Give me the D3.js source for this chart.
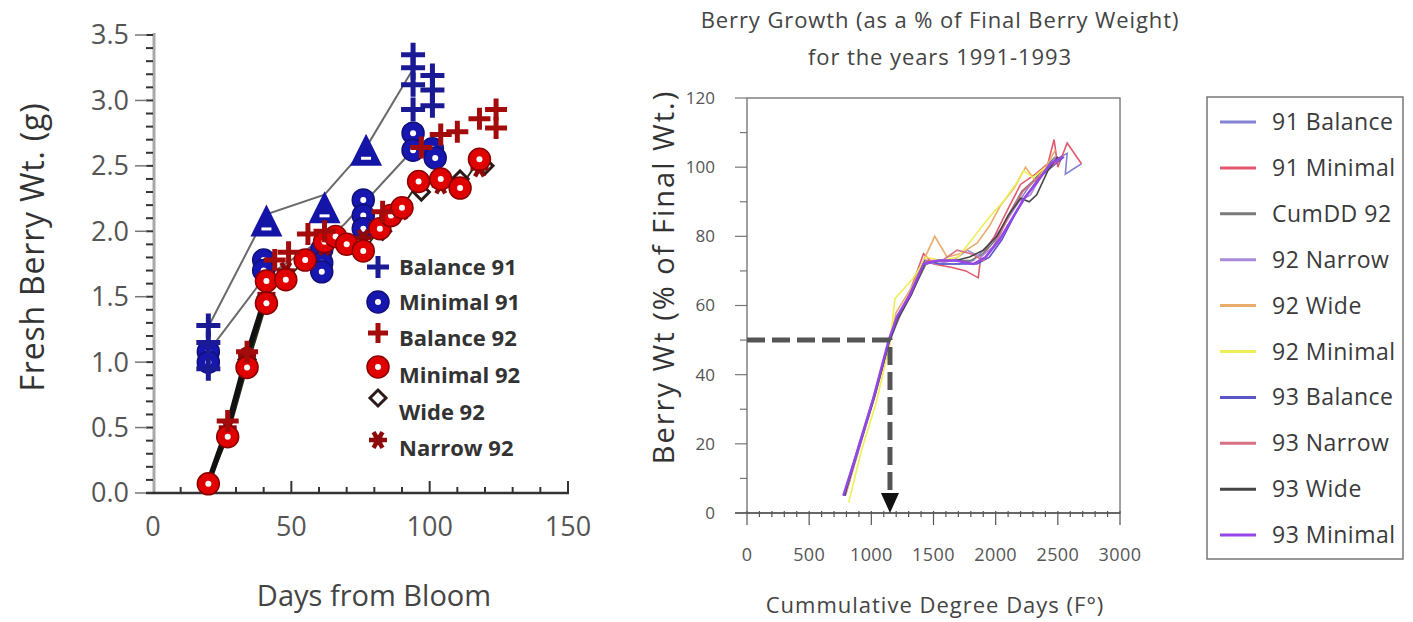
<!DOCTYPE html>
<html>
<head>
<meta charset="utf-8">
<script src="https://cdn.jsdelivr.net/npm/d3@7"></script>
<style>
  body { margin: 0; background: #fff; }
  text { font-family: 'Open Sans', sans-serif; }
</style>
</head>
<body>
<script>
// ---------- left chart data: [days from bloom, fresh berry wt (g)] ----------
var balance91 = [[20,1.28],[20,1.15],[20,0.95],[94,3.35],[94,3.25],[94,3.12],[94,2.93],[101,3.19],[101,3.08],[101,2.96]];
var minimal91 = [[20,1.08],[20,1.0],[40,1.78],[40,1.7],[61,1.86],[61,1.76],[61,1.69],[76,2.24],[76,2.12],[76,2.02],[94,2.75],[94,2.62],[101,2.63],[102,2.56]];
var triangle91 = [[41,2.06],[62,2.16],[77,2.6]];
var balance92 = [[27,0.55],[34,1.08],[44,1.78],[49,1.84],[56,1.98],[62,2.0],[83,2.15],[97,2.64],[104,2.74],[110,2.76],[118,2.86],[124,2.93],[124,2.79]];
var minimal92 = [[20,0.07],[27,0.43],[34,0.96],[41,1.45],[41,1.62],[48,1.63],[55,1.78],[62,1.92],[66,1.96],[70,1.9],[76,1.85],[82,2.02],[86,2.12],[90,2.18],[96,2.38],[104,2.4],[111,2.33],[118,2.55]];
var wide92 = [[20,0.08],[27,0.46],[34,1.02],[41,1.5],[55,1.78],[69,1.9],[83,2.0],[97,2.3],[111,2.4],[120,2.5]];
var narrow92 = [[20,0.08],[27,0.5],[34,1.05],[41,1.52],[48,1.7],[62,1.88],[76,1.95],[90,2.15],[104,2.35],[118,2.48]];
// gray connecting lines for 1991
var line91a = [[20,1.27],[41,2.13],[62,2.28],[77,2.64],[94,3.24]];
var line91b = [[20,1.08],[40,1.64],[69,2.05],[93,2.6],[101,2.62]];

var leftXTicks = [0, 50, 100, 150];
var leftYTicks = [0, 0.5, 1.0, 1.5, 2.0, 2.5, 3.0, 3.5];

// ---------- right chart data: [cumulative degree days, % of final wt] ----------
var s91Balance = [[790,6],[905,20],[1025,34],[1145,50],[1220,57],[1320,63],[1440,73],[1560,72],[1700,72],[1820,73],[1930,77],[2040,82],[2150,88],[2260,94],[2380,99],[2470,102],[2575,104],[2560,98],[2690,101]];
var s91Minimal = [[780,5],[900,19],[1020,33],[1140,49],[1200,56],[1300,63],[1420,75],[1500,72],[1650,71],[1760,70],[1860,68],[1880,74],[1990,80],[2100,88],[2200,95],[2320,98],[2420,101],[2470,108],[2500,100],[2575,107],[2690,101]];
var sCumDD92 = [[790,5],[905,19],[1030,34],[1150,50],[1230,57],[1330,64],[1440,72],[1560,73],[1680,73],[1800,73],[1900,75],[2000,79],[2100,86],[2210,93],[2300,96],[2400,100],[2480,103]];
var s92Narrow = [[785,6],[900,20],[1020,34],[1145,50],[1215,57],[1320,64],[1430,73],[1520,72],[1660,73],[1770,76],[1880,74],[1980,77],[2080,84],[2180,90],[2280,92],[2390,99],[2490,103]];
var s92Wide = [[800,6],[910,20],[1030,34],[1150,50],[1200,58],[1320,65],[1420,73],[1510,80],[1610,74],[1720,75],[1850,78],[1950,83],[2040,89],[2150,94],[2240,100],[2320,96],[2420,101],[2480,105]];
var s92Minimal = [[818,3],[920,18],[1040,32],[1150,49],[1190,62],[1340,68],[1440,74],[1560,73],[1700,74],[1850,81],[1960,86],[2060,90],[2160,95],[2225,99],[2300,97],[2400,100]];
var s93Balance = [[780,5],[895,19],[1020,33],[1140,49],[1210,56],[1310,63],[1430,73],[1550,72],[1700,72],[1850,72],[1950,74],[2050,79],[2150,86],[2250,92],[2350,97],[2450,100],[2550,103]];
var s93Narrow = [[790,6],[905,20],[1025,34],[1145,50],[1215,57],[1320,64],[1440,73],[1570,73],[1690,76],[1800,75],[1900,73],[2000,78],[2120,87],[2220,93],[2340,97],[2440,100],[2530,103]];
var s93Wide = [[785,5],[900,19],[1020,33],[1140,49],[1210,56],[1320,63],[1430,72],[1550,73],[1680,73],[1790,74],[1900,76],[2010,80],[2100,86],[2200,91],[2270,90],[2330,92],[2420,99],[2500,103]];
var s93Minimal = [[775,5],[890,18],[1015,33],[1140,50],[1210,57],[1310,63],[1420,72],[1540,73],[1680,73],[1820,72],[1920,74],[2030,79],[2130,85],[2230,91],[2340,96],[2440,101],[2540,103]];

var rightNames = ["91 Balance","91 Minimal","CumDD 92","92 Narrow","92 Wide","92 Minimal","93 Balance","93 Narrow","93 Wide","93 Minimal"];
var rightSeries = [s91Balance, s91Minimal, sCumDD92, s92Narrow, s92Wide, s92Minimal, s93Balance, s93Narrow, s93Wide, s93Minimal];
var rightColors = ["#8583d2","#e2596e","#7a7a7a","#a98bd9","#e8ad6a","#eeee55","#5a55c9","#d86f84","#454545","#9447e6"];
var rightXTicks = [0, 500, 1000, 1500, 2000, 2500, 3000];
var rightYTicks = [0, 20, 40, 60, 80, 100, 120];
var guideDD = 1150, guidePct = 50; // dashed read-off at 50%

var svg = d3.select("body").append("svg")
    .attr("width", 1413)
    .attr("height", 622);

/////////////////////////////////////////////////////////////////////////
// LEFT CHART
/////////////////////////////////////////////////////////////////////////

var xL = d3.scaleLinear().domain([0, 150]).range([153, 568]);
var yL = d3.scaleLinear().domain([0, 3.5]).range([493, 35]);
var left = svg.append("g");

// y axis: light gray spine, short dark minor ticks, longer gray major ticks
left.append("line")
    .attr("x1", 154).attr("x2", 154)
    .attr("y1", yL(3.5) - 2).attr("y2", yL(0))
    .style("stroke", "#a8a8a8").style("stroke-width", 3);

left.selectAll(".yminor")
    .data(d3.range(0, 36).map(function(i) { return i / 10; }))
    .enter().append("line")
    .attr("x1", 146).attr("x2", 153)
    .attr("y1", function(d) { return yL(d); })
    .attr("y2", function(d) { return yL(d); })
    .style("stroke", "#333").style("stroke-width", 2);

left.selectAll(".ymajor")
    .data(leftYTicks)
    .enter().append("line")
    .attr("x1", 135).attr("x2", 147)
    .attr("y1", function(d) { return yL(d); })
    .attr("y2", function(d) { return yL(d); })
    .style("stroke", "#777").style("stroke-width", 1.5);

left.selectAll(".ylab")
    .data(leftYTicks)
    .enter().append("text")
    .attr("x", 129)
    .attr("y", function(d) { return yL(d); })
    .attr("dy", "0.35em")
    .attr("text-anchor", "end")
    .style("font-size", "27px")
    .style("fill", "#555")
    .text(function(d) { return d3.format(".1f")(d); });

// x axis: dark baseline with upward ticks
left.append("line")
    .attr("x1", 146).attr("x2", xL(150) + 1)
    .attr("y1", 493).attr("y2", 493)
    .style("stroke", "#333").style("stroke-width", 2.5);

left.selectAll(".xtick")
    .data(d3.range(10, 151, 10))
    .enter().append("line")
    .attr("x1", function(d) { return xL(d); })
    .attr("x2", function(d) { return xL(d); })
    .attr("y1", 493)
    .attr("y2", function(d) { return d % 50 == 0 ? 481 : 487; })
    .style("stroke", "#333").style("stroke-width", 2);

left.selectAll(".xlab")
    .data(leftXTicks)
    .enter().append("text")
    .attr("x", function(d) { return xL(d); })
    .attr("y", 527)
    .attr("dy", "0.35em")
    .attr("text-anchor", "middle")
    .style("font-size", "27px")
    .style("fill", "#555")
    .text(function(d) { return d; });

left.append("text")
    .attr("transform", "translate(33,247) rotate(-90)")
    .attr("text-anchor", "middle")
    .attr("dy", "0.35em")
    .style("font-size", "32px")
    .style("letter-spacing", "0.8px")
    .style("fill", "#333")
    .text("Fresh Berry Wt. (g)");

left.append("text")
    .attr("x", 374).attr("y", 596)
    .attr("dy", "0.35em")
    .attr("text-anchor", "middle")
    .style("font-size", "29px")
    .style("fill", "#444")
    .text("Days from Bloom");

// connecting lines
var lineL = d3.line()
    .x(function(d) { return xL(d[0]); })
    .y(function(d) { return yL(d[1]); });

[line91a, line91b].forEach(function(s) {
    left.append("path").attr("d", lineL(s))
        .style("fill", "none").style("stroke", "#6a6a6a").style("stroke-width", 2);
});
left.append("path").attr("d", lineL(minimal92))
    .style("fill", "none").style("stroke", "#2b2b1a").style("stroke-width", 2);
left.append("path").attr("d", lineL(narrow92.slice(0, 4)))
    .style("fill", "none").style("stroke", "#111").style("stroke-width", 5.5);

// marker drawers
function plus(g, color, s) {
    g.append("path").attr("d", "M" + (-s) + ",0H" + s + "M0," + (-s) + "V" + s)
        .style("stroke", color).style("stroke-width", 5).style("fill", "none");
}
function ring(g, fill, stroke) {
    g.append("circle").attr("r", 11).style("fill", fill).style("stroke", stroke).style("stroke-width", 1.5);
    g.append("circle").attr("r", 3).style("fill", "#fff");
}
function diamond(g) {
    g.append("path").attr("d", "M0,-8L8,0L0,8L-8,0Z")
        .style("fill", "#fff").style("stroke", "#2a1a1a").style("stroke-width", 3);
}
function star(g) {
    [0, 60, 120].forEach(function(a) {
        g.append("line").attr("x1", -9).attr("x2", 9)
            .attr("transform", "rotate(" + a + ")")
            .style("stroke", "#8e0a0a").style("stroke-width", 4.5);
    });
    g.append("circle").attr("r", 5).style("fill", "#8e0a0a");
}
function triangle(g) {
    g.append("path").attr("d", "M0,-19L16,13H-16Z").style("fill", "#1414a6");
    g.append("rect").attr("x", -5).attr("y", 4).attr("width", 10).attr("height", 3).style("fill", "#fff");
}

function drawPoints(data, drawer) {
    left.selectAll(null)
        .data(data)
        .enter().append("g")
        .attr("transform", function(d) { return "translate(" + xL(d[0]) + "," + yL(d[1]) + ")"; })
        .each(function() { drawer(d3.select(this)); });
}

drawPoints(triangle91, triangle);
drawPoints(minimal91, function(g) { ring(g, "#1717b0", "#10107a"); });
drawPoints(balance91, function(g) { plus(g, "#1a1a95", 12); });
drawPoints(wide92, diamond);
drawPoints(narrow92, star);
drawPoints(minimal92, function(g) { ring(g, "#e00000", "#8a0000"); });
drawPoints(balance92, function(g) { plus(g, "#a40c0c", 11); });

// left legend
var legL = [
    { label: "Balance 91", ty: 267, my: 267, draw: function(g) { plus(g, "#1a1a95", 11); } },
    { label: "Minimal 91", ty: 302, my: 302, draw: function(g) { ring(g, "#1717b0", "#10107a"); } },
    { label: "Balance 92", ty: 338, my: 333, draw: function(g) { plus(g, "#a40c0c", 10); } },
    { label: "Minimal 92", ty: 375, my: 367, draw: function(g) { ring(g, "#e00000", "#8a0000"); } },
    { label: "Wide 92", ty: 412, my: 398, draw: diamond },
    { label: "Narrow 92", ty: 448, my: 440, draw: star }
];
legL.forEach(function(d) {
    var g = left.append("g").attr("transform", "translate(378," + d.my + ")");
    d.draw(g);
    left.append("text")
        .attr("x", 399).attr("y", d.ty)
        .attr("dy", "0.35em")
        .style("font-size", "22px")
        .style("font-weight", 700)
        .style("fill", "#333")
        .text(d.label);
});

/////////////////////////////////////////////////////////////////////////
// RIGHT CHART
/////////////////////////////////////////////////////////////////////////

var xR = d3.scaleLinear().domain([0, 3000]).range([747, 1120]);
var yR = d3.scaleLinear().domain([0, 120]).range([513, 98]);
var right = svg.append("g");

right.append("text")
    .attr("x", 940).attr("y", 20)
    .attr("dy", "0.35em")
    .attr("text-anchor", "middle")
    .style("font-size", "22px")
    .style("letter-spacing", "0.9px")
    .style("fill", "#444")
    .text("Berry Growth (as a % of Final Berry Weight)");
right.append("text")
    .attr("x", 940).attr("y", 57)
    .attr("dy", "0.35em")
    .attr("text-anchor", "middle")
    .style("font-size", "22px")
    .style("letter-spacing", "0.9px")
    .style("fill", "#444")
    .text("for the years 1991-1993");

// plot frame
right.append("rect")
    .attr("x", xR(0)).attr("y", yR(120))
    .attr("width", xR(3000) - xR(0))
    .attr("height", yR(0) - yR(120))
    .style("fill", "none").style("stroke", "#808080").style("stroke-width", 1.5);

// y ticks
right.selectAll(".ryt")
    .data(d3.range(0, 121, 10))
    .enter().append("line")
    .attr("x1", function(d) { return d % 20 == 0 ? 735 : 740; })
    .attr("x2", xR(0))
    .attr("y1", function(d) { return yR(d); })
    .attr("y2", function(d) { return yR(d); })
    .style("stroke", "#777").style("stroke-width", 1.2);

right.selectAll(".ryl")
    .data(rightYTicks)
    .enter().append("text")
    .attr("x", 715)
    .attr("y", function(d) { return yR(d); })
    .attr("dy", "0.35em")
    .attr("text-anchor", "end")
    .style("font-size", "17px")
    .style("fill", "#555")
    .text(function(d) { return d; });

// x axis
right.append("line")
    .attr("x1", 735).attr("x2", xR(3000))
    .attr("y1", yR(0)).attr("y2", yR(0))
    .style("stroke", "#555").style("stroke-width", 1.5);

right.selectAll(".rxt")
    .data(d3.range(0, 3001, 100))
    .enter().append("line")
    .attr("x1", function(d) { return xR(d); })
    .attr("x2", function(d) { return xR(d); })
    .attr("y1", yR(0) - 2)
    .attr("y2", function(d) { return d % 500 == 0 ? yR(0) + 12 : yR(0) + 4; })
    .style("stroke", "#555").style("stroke-width", 1.2);

right.selectAll(".rxl")
    .data(rightXTicks)
    .enter().append("text")
    .attr("x", function(d) { return xR(d); })
    .attr("y", 555)
    .attr("dy", "0.35em")
    .attr("text-anchor", "middle")
    .style("font-size", "18px")
    .style("letter-spacing", "0.4px")
    .style("fill", "#555")
    .text(function(d) { return d; });

right.append("text")
    .attr("transform", "translate(664,277) rotate(-90)")
    .attr("text-anchor", "middle")
    .attr("dy", "0.35em")
    .style("font-size", "29px")
    .style("letter-spacing", "2px")
    .style("fill", "#333")
    .text("Berry Wt (% of Final Wt.)");

right.append("text")
    .attr("x", 935).attr("y", 605)
    .attr("dy", "0.35em")
    .attr("text-anchor", "middle")
    .style("font-size", "22px")
    .style("letter-spacing", "1px")
    .style("fill", "#444")
    .text("Cummulative Degree Days (F°)");

// series lines
var lineR = d3.line()
    .x(function(d) { return xR(d[0]); })
    .y(function(d) { return yR(d[1]); });

rightSeries.forEach(function(s, i) {
    right.append("path")
        .attr("d", lineR(s))
        .style("fill", "none")
        .style("stroke", rightColors[i])
        .style("stroke-width", i == 9 ? 2.5 : 1.6);
});

// dashed read-off guide with arrow
right.append("path")
    .attr("d", "M" + xR(0) + "," + yR(guidePct) + "H" + xR(guideDD) + "V" + (yR(0) - 18))
    .style("fill", "none")
    .style("stroke", "#555")
    .style("stroke-width", 5)
    .style("stroke-dasharray", "18,7");
right.append("path")
    .attr("d", "M" + (xR(guideDD) - 9) + "," + (yR(0) - 20) + "H" + (xR(guideDD) + 9) + "L" + xR(guideDD) + "," + yR(0) + "Z")
    .style("fill", "#111");

// right legend
right.append("rect")
    .attr("x", 1207).attr("y", 97)
    .attr("width", 196).attr("height", 462)
    .style("fill", "#fff").style("stroke", "#777").style("stroke-width", 1.5);

var legR = right.selectAll(".legr")
    .data(rightNames)
    .enter().append("g")
    .attr("transform", function(d, i) { return "translate(0," + (122 + i * 45.9) + ")"; });

legR.append("line")
    .attr("x1", 1220).attr("x2", 1256)
    .style("stroke", function(d, i) { return rightColors[i]; })
    .style("stroke-width", 3);

legR.append("text")
    .attr("x", 1272)
    .attr("dy", "0.35em")
    .style("font-size", "23px")
    .style("letter-spacing", "0.5px")
    .style("fill", "#3a3a3a")
    .text(function(d) { return d; });
</script>
</body>
</html>
